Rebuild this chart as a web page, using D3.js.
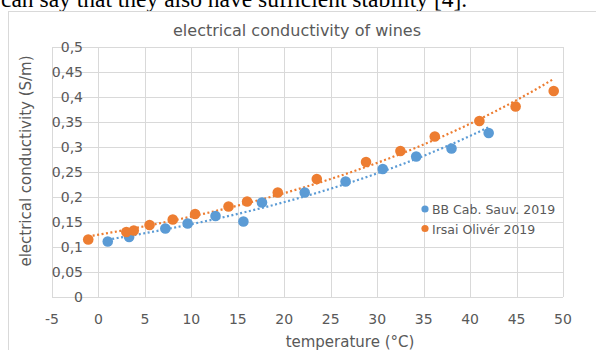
<!DOCTYPE html>
<html>
<head>
<meta charset="utf-8">
<script src="https://cdn.jsdelivr.net/npm/d3@7"></script>
<style>
  body { margin: 0; background: #fff; }
  svg { display: block; }
</style>
</head>
<body>
<div id="chart"></div>
<script>
// data
const seriesNames = ["BB Cab. Sauv. 2019", "Irsai Olivér 2019"];
const blueX = [1.0, 3.3, 7.2, 9.6, 12.6, 15.6, 17.6, 22.2, 26.6, 30.6, 34.2, 38.0, 42.0];
const blueY = [0.111, 0.120, 0.137, 0.147, 0.162, 0.151, 0.189, 0.209, 0.231, 0.256, 0.281, 0.297, 0.328];
const orangeX = [-1.1, 3.0, 3.8, 5.5, 8.0, 10.4, 14.0, 16.0, 19.3, 23.5, 28.8, 32.5, 36.2, 41.0, 44.9, 49.0];
const orangeY = [0.115, 0.130, 0.133, 0.144, 0.155, 0.166, 0.181, 0.191, 0.209, 0.236, 0.270, 0.292, 0.321, 0.352, 0.381, 0.412];
const xTicks = [-5, 0, 5, 10, 15, 20, 25, 30, 35, 40, 45, 50];
const yTicks = [0, 0.05, 0.1, 0.15, 0.2, 0.25, 0.3, 0.35, 0.4, 0.45, 0.5];
const colors = ["#5b9bd5", "#ed7d31"];

const W = 596, H = 350;
const plot = {left: 52, right: 563, top: 47, bottom: 297};
const font = "'DejaVu Sans', sans-serif";

const svg = d3.select("#chart").append("svg")
  .attr("width", W)
  .attr("height", H);

// piece of the surrounding paper text (cut off at the top, as in the source)
svg.append("text")
  .attr("x", 1).attr("y", 7)
  .style("font-family", "'Liberation Serif', 'Times New Roman', serif")
  .style("font-size", "23.5px")
  .style("fill", "#000")
  .text("can say that they also have sufficient stability [4].");

// chart frame
svg.append("rect")
  .attr("x", 8.5).attr("y", 11.5)
  .attr("width", 620).attr("height", 400)
  .attr("fill", "#fff")
  .attr("stroke", "#d9d9d9");

const x = d3.scaleLinear().domain([-5, 50]).range([plot.left, plot.right]);
const y = d3.scaleLinear().domain([0, 0.5]).range([plot.bottom, plot.top]);

// gridlines
svg.append("g")
  .selectAll("line")
  .data(yTicks)
  .join("line")
    .attr("x1", plot.left).attr("x2", plot.right)
    .attr("y1", d => Math.round(y(d)) + 0.5)
    .attr("y2", d => Math.round(y(d)) + 0.5)
    .attr("stroke", "#d9d9d9");

svg.append("g")
  .selectAll("line")
  .data(xTicks)
  .join("line")
    .attr("x1", d => Math.round(x(d)) + 0.5)
    .attr("x2", d => Math.round(x(d)) + 0.5)
    .attr("y1", plot.top).attr("y2", plot.bottom)
    .attr("stroke", "#d9d9d9");

// axis labels
const fmt = d => String(+d.toFixed(2)).replace(".", ",");

svg.append("g")
  .attr("transform", "translate(0," + 324 + ")")
  .selectAll("text")
  .data(xTicks)
  .join("text")
    .attr("x", d => x(d))
    .attr("text-anchor", "middle")
    .style("font-family", font)
    .style("font-size", "14px")
    .style("fill", "#595959")
    .text(d => d);

svg.append("g")
  .selectAll("text")
  .data(yTicks)
  .join("text")
    .attr("x", 83)
    .attr("y", d => y(d) + 5)
    .attr("text-anchor", "end")
    .style("font-family", font)
    .style("font-size", "14px")
    .style("fill", "#595959")
    .text(fmt);

// titles
svg.append("text")
  .attr("x", 297).attr("y", 36)
  .attr("text-anchor", "middle")
  .style("font-family", font)
  .style("font-size", "16px")
  .style("fill", "#595959")
  .text("electrical conductivity of wines");

svg.append("text")
  .attr("x", 350).attr("y", 347)
  .attr("text-anchor", "middle")
  .style("font-family", font)
  .style("font-size", "15px")
  .style("fill", "#595959")
  .text("temperature (°C)");

svg.append("text")
  .attr("transform", "translate(31,161) rotate(-90)")
  .attr("text-anchor", "middle")
  .style("font-family", font)
  .style("font-size", "15px")
  .style("fill", "#595959")
  .text("electrical conductivity (S/m)");

// exponential trendline, least squares on ln(y) as the spreadsheet does
function expFit(xs, ys) {
  const ly = ys.map(Math.log);
  const mx = d3.mean(xs), my = d3.mean(ly);
  const b = d3.sum(xs, (v, i) => (v - mx) * (ly[i] - my)) / d3.sum(xs, v => (v - mx) * (v - mx));
  const a = Math.exp(my - b * mx);
  return v => a * Math.exp(b * v);
}

const series = [
  {name: seriesNames[0], xs: blueX, ys: blueY, color: colors[0]},
  {name: seriesNames[1], xs: orangeX, ys: orangeY, color: colors[1]}
];

const line = d3.line().x(d => x(d[0])).y(d => y(d[1]));

series.forEach(s => {
  const f = expFit(s.xs, s.ys);
  const [x0, x1] = d3.extent(s.xs);
  const pts = d3.range(0, 41).map(i => {
    const v = x0 + (x1 - x0) * i / 40;
    return [v, f(v)];
  });
  svg.append("path")
    .attr("d", line(pts))
    .attr("fill", "none")
    .attr("stroke", s.color)
    .attr("stroke-width", 2.2)
    .attr("stroke-dasharray", "2,2.5");
});

series.forEach(s => {
  svg.append("g")
    .selectAll("circle")
    .data(s.xs.map((v, i) => [v, s.ys[i]]))
    .join("circle")
      .attr("cx", d => x(d[0]))
      .attr("cy", d => y(d[1]))
      .attr("r", 5.3)
      .attr("fill", s.color);
});

// legend
const legend = svg.append("g");
series.forEach((s, i) => {
  legend.append("circle")
    .attr("cx", 425).attr("cy", 209 + i * 19.5)
    .attr("r", 3.6)
    .attr("fill", s.color);
  legend.append("text")
    .attr("x", 432).attr("y", 214 + i * 19.5)
    .style("font-family", font)
    .style("font-size", "12.5px")
    .style("fill", "#595959")
    .text(s.name);
});
</script>
</body>
</html>
